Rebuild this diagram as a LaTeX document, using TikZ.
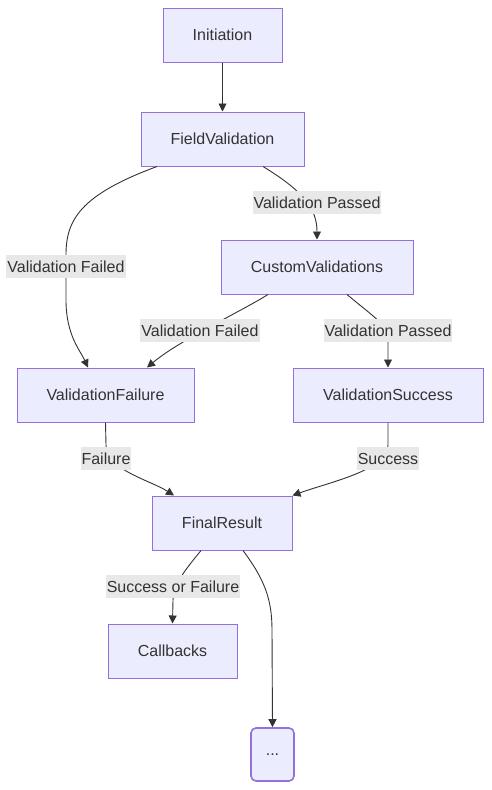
\documentclass[tikz,border=0pt]{standalone}
\usepackage{fontspec}
\setmainfont{Liberation Sans}
\usetikzlibrary{arrows.meta}
\definecolor{boxfill}{HTML}{ECECFF}
\definecolor{boxline}{HTML}{9370DB}
\definecolor{ink}{HTML}{333333}
\definecolor{lblfill}{HTML}{E8E8E8}
\tikzset{
  stage/.style={draw=boxline, fill=boxfill, line width=1pt, text=ink,
    minimum height=54pt, inner sep=0pt, font=\fontsize{16}{19}\selectfont},
  lbl/.style={fill=lblfill, text=ink, inner xsep=1pt, inner ysep=0pt,
    minimum height=23pt, font=\fontsize{16}{19}\selectfont},
  flow/.style={draw=ink, line width=0.9pt, -{Triangle[length=8pt,width=8pt]}}
}

\begin{document}
\begin{tikzpicture}[x=1pt,y=-1pt]
\useasboundingbox (0,0) rectangle (491,790);
% the stages
\node[stage, minimum width=119pt] (init) at (222.5,35) {Initiation};
\node[stage, minimum width=163pt] (fv) at (222.5,139) {FieldValidation};
\node[stage, minimum width=192pt] (cv) at (317,267) {CustomValidations};
\node[stage, minimum width=177pt] (vf) at (105.5,395) {ValidationFailure};
\node[stage, minimum width=190pt] (vs) at (388,395) {ValidationSuccess};
\node[stage, minimum width=140pt] (fr) at (222,523) {FinalResult};
\node[stage, minimum width=129pt] (cb) at (172.5,651) {Callbacks};
\node[stage, minimum width=43pt, minimum height=53pt, rounded corners=5pt,
	line width=1.6pt] (more) at (272.5,754.5) {...};
%
\draw[flow] (init) -- (fv);
\draw[flow] ([xshift=40.5pt]fv.south) .. controls (305,192) and (317,210) .. (cv.north);
\draw[flow] ([xshift=-65.5pt]fv.south) .. controls (80,195) and (66,220) .. (66,255)
	-- (66,300) .. controls (66,335) and (80,350) .. ([xshift=-17.5pt]vf.north);
\draw[flow] ([xshift=-49pt]cv.south) .. controls (240,312) and (180,340) .. ([xshift=41.5pt]vf.north);
\draw[flow] ([xshift=30pt]cv.south) .. controls (375,318) and (388,325) .. (388,340) -- (vs.north);
%
\draw[flow] (vf.south) -- (106,445) .. controls (106,470) and (150,480) .. ([xshift=-48pt]fr.north);
\draw[flow] (vs.south) -- (388,445) .. controls (388,470) and (330,482) .. (fr.north east);
\draw[flow] ([xshift=-21pt]fr.south) .. controls (185,570) and (173,585) .. (173,600) -- (cb.north);
\draw[flow] ([xshift=21pt]fr.south) .. controls (265,580) and (272,600) .. (272,630) -- (more.north);
% edge labels
\node[lbl] (fvpass) at (317,202.5) {Validation Passed};
\node[lbl] (fvfail) at (66,266.5) {Validation Failed};
\node[lbl] (cvfail) at (200,330.5) {Validation Failed};
\node[lbl] (cvpass) at (388,330.5) {Validation Passed};
\node[lbl] (vffail) at (106,458.5) {Failure};
\node[lbl] (vsok) at (388,458.5) {Success};
\node[lbl] (frout) at (173,586.5) {Success or Failure};
\end{tikzpicture}
\end{document}
